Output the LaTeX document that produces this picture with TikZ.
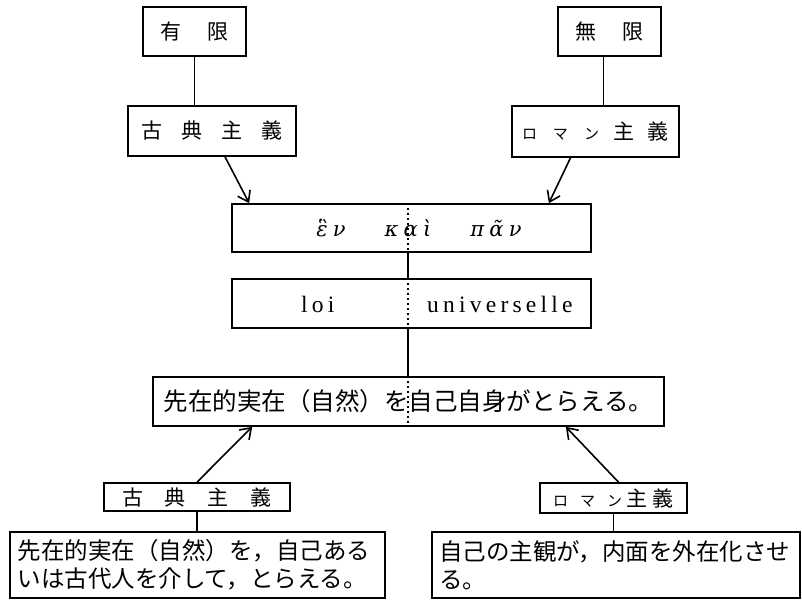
\documentclass[tikz,border=0pt]{standalone}
\usepackage{fontspec}
\newfontfamily\jp{Noto Sans CJK JP}
\newfontfamily\gr[Script=Greek,LetterSpace=25]{DejaVu Serif}
\newfontfamily\lat[LetterSpace=18]{Liberation Serif}
\usetikzlibrary{arrows.meta}
\newcommand\kk[1]{{\fontsize{15}{15}\selectfont #1}}
\tikzset{
  box/.style={draw, line width=1.7pt, inner sep=0pt, align=center,
    font=\jp\fontsize{21}{28}\selectfont},
  link/.style={line width=1.6pt},
  arr/.style={line width=1.6pt, -{Straight Barb[length=10pt,width=14pt,line width=1.6pt]}},
  dots/.style={line width=1.6pt, dash pattern=on 2pt off 3pt},
  grk/.style={font=\gr\itshape\fontsize{21}{24}\selectfont, inner sep=0pt},
  lt/.style={font=\lat\fontsize{23.5}{26}\selectfont, inner sep=0pt, anchor=base west},
}
\begin{document}
\begin{tikzpicture}[x=1pt,y=-1pt]
\useasboundingbox (0,0) rectangle (802,601);
% top
\node[box, minimum width=103pt, minimum height=49pt] (yu) at (194.5,31.5) {有\hspace{26pt}限};
\node[box, minimum width=103pt, minimum height=49pt] (mugen) at (609.5,31.5) {無\hspace{26pt}限};
\node[box, minimum width=168pt, minimum height=50pt] (koten) at (212,131) {古\hspace{19pt}典\hspace{19pt}主\hspace{19pt}義};
\node[box, minimum width=167pt, minimum height=51pt] (roman) at (595.5,131.5) {\kk{ロ}\hspace{16pt}\kk{マ}\hspace{16pt}\kk{ン}\hspace{14pt}主\hspace{14pt}義};
% middle
\node[box, minimum width=359pt, minimum height=48pt] (greek) at (411.5,228) {};
\node[box, minimum width=359pt, minimum height=49pt] (loi) at (411.5,303.5) {};
\coordinate (ax) at (408,0);
\node[grk] (g1) at (331,228) {ἓν};
\node[grk] (g2) at (408,228) {καὶ};
\node[grk] (g3) at (496,228) {πᾶν};
\node[lt] (l1) at (301,312) {loi};
\node[lt] (l2) at (427,312) {universelle};
\node[box, minimum width=511pt, minimum height=49pt, font=\jp\fontsize{24.5}{28}\selectfont] (sent) at (408.5,401.5) {先在的実在（自然）を自己自身がとらえる。};
% lower
\node[box, minimum width=186pt, minimum height=28pt] (koten2) at (197,497) {古\hspace{22pt}典\hspace{22pt}主\hspace{22pt}義};
\node[box, minimum width=147pt, minimum height=30pt] (roman2) at (613.5,498) {\kk{ロ}\hspace{12pt}\kk{マ}\hspace{12pt}\kk{ン}\hspace{4pt}主\hspace{6pt}義};
\node[box, minimum width=375pt, minimum height=66pt, text width=360pt, align=left, font=\jp\fontsize{23.5}{28}\selectfont] (lt) at (197.5,565) {先在的実在（自然）を，自己ある\\いは古代人を介して，とらえる。};
\node[box, minimum width=368pt, minimum height=66pt, text width=354pt, align=left, font=\jp\fontsize{23.5}{28}\selectfont] (rt) at (616,565) {自己の主観が，内面を外在化させ\\る。};
% connectors
\draw[link] (yu.south) -- (koten.north -| yu.south);
\draw[link] ([xshift=-6pt]mugen.south) -- ([xshift=-6pt]roman.north -| mugen.south);
\draw[arr] ([xshift=13pt]koten.south) -- ([xshift=18pt]greek.north west);
\draw[arr] ([xshift=-25pt]roman.south) -- ([xshift=-43pt]greek.north east);
\draw[dots] (greek.north -| ax) -- (greek.south -| ax);
\draw[link] (greek.south -| ax) -- (loi.north -| ax);
\draw[dots] (loi.north -| ax) -- (loi.south -| ax);
\draw[link] (loi.south -| ax) -- (sent.north -| ax);
\draw[dots] (sent.north -| ax) -- (sent.south -| ax);
\draw[arr] (koten2.north) -- ([xshift=100pt]sent.south west);
\draw[arr] ([xshift=5pt]roman2.north) -- ([xshift=-99pt]sent.south east);
\draw[link] (koten2.south) -- (lt.north -| koten2.south);
\draw[link] (roman2.south) -- (rt.north -| roman2.south);
\end{tikzpicture}
\end{document}
